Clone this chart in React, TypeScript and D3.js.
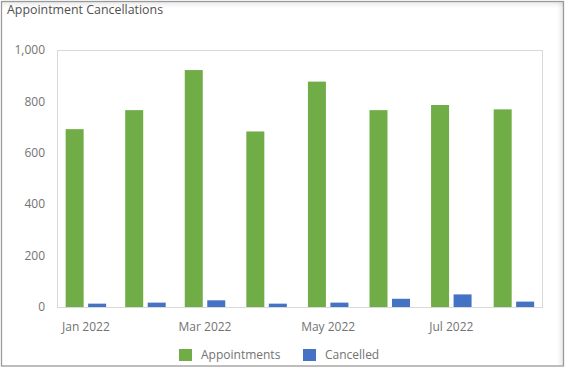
import React from 'react';
import * as d3 from 'd3';

const months = ['2022-01', '2022-02', '2022-03', '2022-04', '2022-05', '2022-06', '2022-07', '2022-08'];
const appointments = [692, 766, 922, 683, 877, 766, 786, 769];
const cancelled = [13, 17, 26, 13, 17, 32, 49, 21];
const seriesNames = ['Appointments', 'Cancelled'];
const seriesColors = ['#70AD47', '#4472C4'];
const yTicks = [0, 200, 400, 600, 800, 1000];
const xTickMonths = ['2022-01', '2022-03', '2022-05', '2022-07'];

const W = 566;
const H = 367;
const font = '"Open Sans", "Noto Sans", sans-serif';

const parse = d3.timeParse('%Y-%m');
const fmtMonth = d3.timeFormat('%b %Y');

export default function App() {
  const plot = { left: 57, right: 542, top: 50, bottom: 307 };

  // time scale, bars centred on the middle of each month
  const x = d3
    .scaleTime()
    .domain([new Date(2022, 0, 1), new Date(2022, 8, 1)])
    .range([54.6, 545.2]);
  const y = d3.scaleLinear().domain([0, 1000]).range([plot.bottom, plot.top]);

  const mid = (m: string) => {
    const s = parse(m)!;
    const e = d3.timeMonth.offset(s, 1);
    return (x(s) + x(e)) / 2;
  };

  const barW = 18;
  const gap = 4.5;
  const fmtNum = d3.format(',');

  return (
    <div style={{ position: 'fixed', left: 0, top: 0, width: W, height: H, background: '#fff' }}>
      <svg width={W} height={H} style={{ display: 'block', fontFamily: font }}>
        <defs>
          <linearGradient id="shTop" x1="0" y1="0" x2="0" y2="1">
            <stop offset="0" stopColor="#000" stopOpacity="0.08" />
            <stop offset="1" stopColor="#000" stopOpacity="0" />
          </linearGradient>
          <linearGradient id="shRight" x1="1" y1="0" x2="0" y2="0">
            <stop offset="0" stopColor="#000" stopOpacity="0.08" />
            <stop offset="1" stopColor="#000" stopOpacity="0" />
          </linearGradient>
        </defs>
        <rect x={0} y={0} width={W} height={H} fill="#fff" />
        {/* inner shadows of the card */}
        <rect x={2} y={2} width={561} height={6} fill="url(#shTop)" />
        <rect x={557} y={2} width={6} height={363} fill="url(#shRight)" />
        <rect x={1.5} y={1.5} width={562} height={364.5} fill="none" stroke="#9a9a9a" strokeWidth={1.3} />

        <text x={7} y={14} fontSize={12.4} fill="#505050">
          Appointment Cancellations
        </text>

        {/* plot frame */}
        <rect
          x={plot.left + 0.5}
          y={plot.top + 0.5}
          width={plot.right - plot.left}
          height={plot.bottom - plot.top}
          fill="none"
          stroke="#d9d9d9"
        />

        {yTicks.map((t) => (
          <text
            key={t}
            x={45}
            y={y(t)}
            dy="0.35em"
            textAnchor="end"
            fontSize={12}
            fill="#737373"
          >
            {fmtNum(t)}
          </text>
        ))}

        {months.map((m, i) => {
          const c = mid(m);
          return (
            <g key={m}>
              <rect
                x={c - gap / 2 - barW}
                y={y(appointments[i])}
                width={barW}
                height={y(0) - y(appointments[i])}
                fill={seriesColors[0]}
              />
              <rect
                x={c + gap / 2}
                y={y(cancelled[i])}
                width={barW}
                height={y(0) - y(cancelled[i])}
                fill={seriesColors[1]}
              />
            </g>
          );
        })}

        {xTickMonths.map((m) => (
          <text key={m} x={mid(m)} y={331} textAnchor="middle" fontSize={12} fill="#737373">
            {fmtMonth(parse(m)!)}
          </text>
        ))}

        {/* legend */}
        {seriesNames.map((s, i) => {
          const lx = [179, 303][i];
          return (
            <g key={s} transform={`translate(${lx},349)`}>
              <rect x={0} y={0} width={13} height={12} fill={seriesColors[i]} />
              <text x={22} y={6} dy="0.35em" fontSize={12} fill="#737373">
                {s}
              </text>
            </g>
          );
        })}
      </svg>
    </div>
  );
}
